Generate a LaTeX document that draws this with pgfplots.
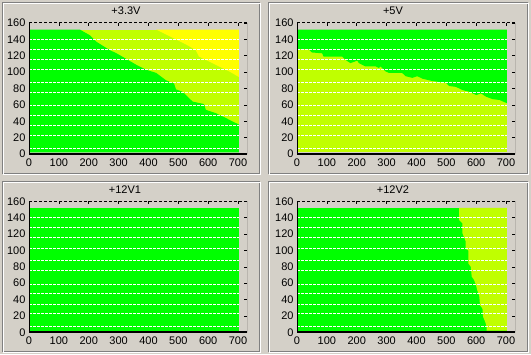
\documentclass[border=0pt]{standalone}
\usepackage{pgfplots}
\pgfplotsset{compat=1.18}
\usepackage{fontspec}
\setmainfont{Liberation Sans}
\definecolor{bg}{RGB}{212,208,200}
\definecolor{etch}{RGB}{128,128,128}
\definecolor{gr}{RGB}{0,255,0}
\definecolor{yg}{RGB}{192,255,0}
\definecolor{ye}{RGB}{255,255,0}
\pgfplotsset{panel/.style={
  scale only axis, width=218bp, height=131bp, anchor=south west,
  xmin=0, xmax=730, ymin=0, ymax=160,
  xtick={0,100,...,700}, ytick={0,20,...,160},
  xtick pos=right, xticklabel pos=left,
  ytick pos=right, yticklabel pos=left,
  tick align=inside, major tick length=3bp,
  tick style={black, line width=0.6bp},
  axis line style={draw=none},
  ticklabel style={font=\fontsize{11bp}{12bp}\selectfont},
  xticklabel style={yshift=-1bp},
  /pgf/number format/assume math mode=true,
}}
\newcommand\wlines{%
  \pgfplotsinvokeforeach{140.5,128,115.5,103,87.5,75.5,59,47,34.5,22.5,7}{%
    \draw[white, line width=0.8bp, dash pattern=on 2.5bp off 1.5bp] (axis cs:1,##1) -- (axis cs:703,##1);}%
}
\newcommand\axlines{%
  \draw[line width=1bp] (rel axis cs:1,0) -- (rel axis cs:1,1);
  \draw[line width=1bp, dash pattern=on 3bp off 2bp] (rel axis cs:0,1) -- (rel axis cs:1,1);
  \draw[line width=2bp] (rel axis cs:0,1) -- (rel axis cs:0,0) -- (rel axis cs:1,0);
  \pgfplotsinvokeforeach{50,150,250,350,450,550,650}{%
    \draw[line width=0.8bp] (axis cs:##1,0) -- ++(0,-3.5bp);}%
}
\newcommand\etched[4]{%
  \draw[line width=1bp, etch] (#1+0.5,354-#2-0.5) rectangle (#3-0.5,354-#4+0.5);
  \draw[line width=1bp, white] (#1+1.5,354-#2-1.5) rectangle (#3+0.5,354-#4-0.5);
}
\begin{document}
\begin{tikzpicture}[x=1bp,y=1bp]
\fill[bg] (0,0) rectangle (531,354);
\etched{2}{2}{260}{174}
\etched{268}{2}{528}{174}
\etched{2}{181}{260}{352}
\etched{268}{181}{528}{352}
\node[anchor=base, font=\fontsize{11bp}{12bp}\selectfont] at (126,340) {+3.3V};
\node[anchor=base, font=\fontsize{11bp}{12bp}\selectfont] at (393,340) {+5V};
\node[anchor=base, font=\fontsize{11bp}{12bp}\selectfont] at (125,160.3) {+12V1};
\node[anchor=base, font=\fontsize{11bp}{12bp}\selectfont] at (393,160.3) {+12V2};

% +3.3V
\begin{axis}[panel, at={(29bp,200bp)}]
\addplot[fill=yg, draw=none] coordinates {(1,2) (703,2) (703,152) (1,152)} -- cycle;
\addplot[fill=ye, draw=none] coordinates {(426,152) (481,142) (525,134) (558,127) (569,119) (603,113) (636,107) (670,101) (703,94) (703,152)} -- cycle;
\addplot[fill=gr, draw=none] coordinates {(1,2) (703,2) (703,36) (680,40) (659,44) (625,50) (592,54) (586,61) (548,64) (514,76) (492,79) (486,86) (459,90) (426,99) (392,103) (359,109) (331,115) (293,123) (270,127) (226,137) (204,145) (170,152) (1,152)} -- cycle;
\wlines
\axlines
\end{axis}

% +5V
\begin{axis}[panel, at={(297bp,200bp)}]
\addplot[fill=yg, draw=none] coordinates {(1,2) (703,2) (703,152) (1,152)} -- cycle;
\addplot[fill=gr, draw=none] coordinates {(1,152) (703,152) (703,62) (678,66) (655,67) (633,70) (616,74) (600,72) (577,76) (555,78) (532,82) (510,83) (498,87) (454,89) (420,92) (403,95) (386,93) (364,95) (352,99) (308,99) (296,101) (280,107) (274,105) (263,107) (229,107) (207,111) (202,114) (179,111) (162,115) (151,119) (89,119) (84,123) (50,124) (39,128) (1,128)} -- cycle;
\wlines
\axlines
\end{axis}

% +12V1
\begin{axis}[panel, at={(29bp,21.7bp)}]
\addplot[fill=gr, draw=none] coordinates {(1,2) (703,2) (703,152) (1,152)} -- cycle;
\wlines
\axlines
\end{axis}

% +12V2
\begin{axis}[panel, at={(297bp,21.7bp)}]
\addplot[fill=gr, draw=none] coordinates {(1,2) (703,2) (703,152) (1,152)} -- cycle;
\addplot[fill=yg, draw=none] coordinates {(543,152) (703,152) (703,2) (635,2) (635,7) (630,13) (623,19) (621,29) (613,33) (610,45) (604,51) (599,58) (593,64) (585,68) (582,80) (574,84) (574,100) (565,102) (565,111) (554,121) (554,133) (543,137)} -- cycle;
\wlines
\axlines
\end{axis}
\end{tikzpicture}
\end{document}
